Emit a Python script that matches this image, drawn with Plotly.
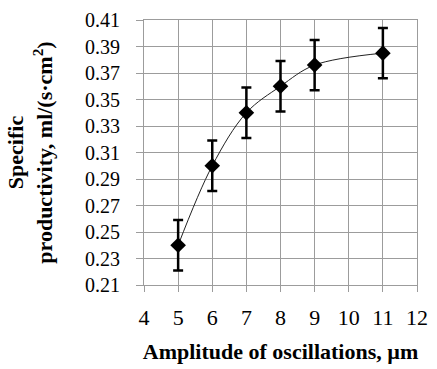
import plotly.graph_objects as go

amplitude = [5, 6, 7, 8, 9, 11]
productivity = [0.240, 0.300, 0.340, 0.360, 0.376, 0.385]
error = [0.019, 0.019, 0.019, 0.019, 0.019, 0.019]

x_ticks = [4, 5, 6, 7, 8, 9, 10, 11, 12]
y_ticks = [0.21, 0.23, 0.25, 0.27, 0.29, 0.31, 0.33, 0.35, 0.37, 0.39, 0.41]

fig = go.Figure()
fig.add_trace(go.Scatter(
    x=amplitude, y=productivity, mode="lines",
    line=dict(color="#222222", width=1, shape="spline", smoothing=1.0),
    hoverinfo="skip", showlegend=False))
fig.add_trace(go.Scatter(
    x=amplitude, y=productivity, mode="markers",
    marker=dict(symbol="diamond", size=12, color="black"),
    error_y=dict(type="data", array=error, color="black", thickness=2.5, width=5),
    showlegend=False))

font_family = "Liberation Serif, Times New Roman, serif"
grid = "#9c9c9c"
fig.update_layout(
    width=437, height=369,
    margin=dict(l=144, r=9, t=18, b=77),
    paper_bgcolor="white", plot_bgcolor="white",
    font=dict(family=font_family, size=20, color="black"),
    xaxis=dict(range=[4, 12], tickvals=x_ticks, ticktext=[str(v) for v in x_ticks],
               tickfont=dict(family=font_family, size=22),
               showgrid=True, gridcolor=grid, gridwidth=1,
               showline=True, linecolor=grid, mirror=True,
               ticks="outside", ticklen=6, tickcolor=grid,
               ticklabelstandoff=7, ticklabeloverflow="allow",
               zeroline=False,
               title=dict(text="<b>Amplitude of oscillations, µm</b>",
                          font=dict(family=font_family, size=22), standoff=14)),
    yaxis=dict(range=[0.21, 0.41], tickvals=y_ticks,
               ticktext=[f"{v:.2f}" for v in y_ticks],
               tickfont=dict(family=font_family, size=20),
               showgrid=True, gridcolor=grid, gridwidth=1,
               showline=True, linecolor=grid, mirror=True,
               ticks="outside", ticklen=7, tickcolor=grid,
               ticklabelstandoff=12, ticklabeloverflow="allow",
               zeroline=False,
               title=dict(text="<b>Specific<br>productivity, ml/(s·cm<sup>2</sup>)</b>",
                          font=dict(family=font_family, size=22), standoff=26)),
)
fig.write_html("out.html", config={"displayModeBar": False},
               post_script="document.body.style.margin='0';")
